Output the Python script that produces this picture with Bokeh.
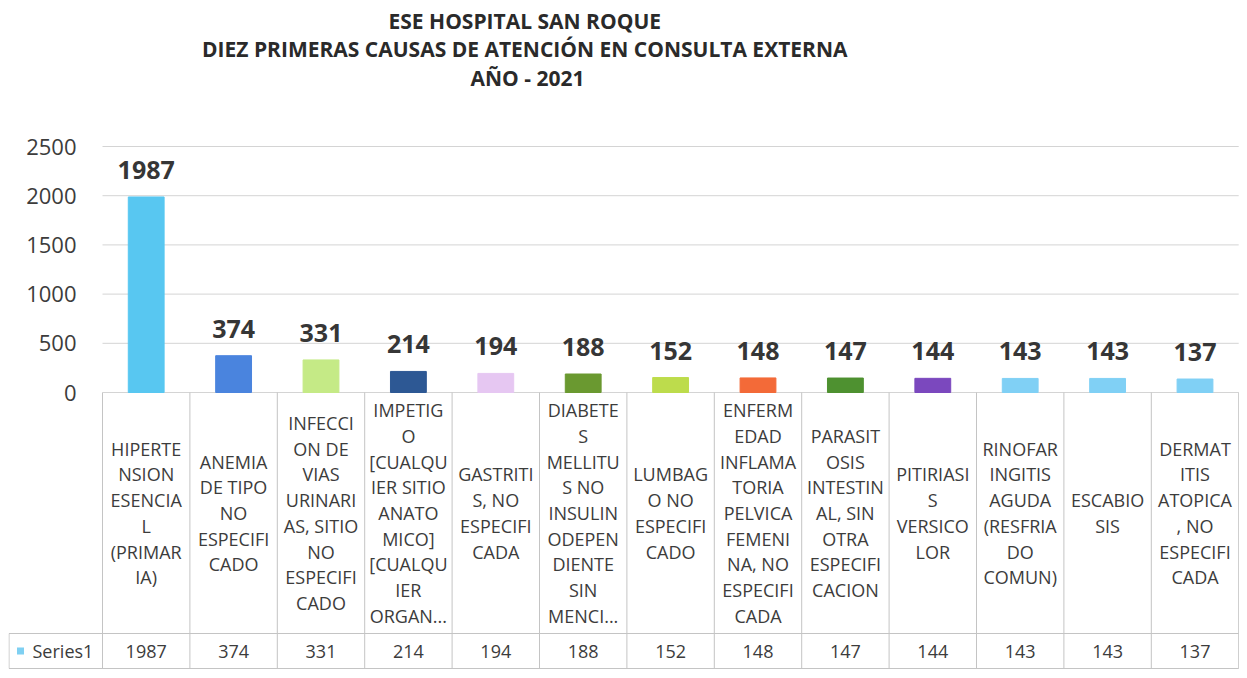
from bokeh.plotting import figure
from bokeh.models import Range1d, FixedTicker, ColumnDataSource
from bokeh.core.properties import value
from bokeh.embed import file_html
from bokeh.resources import INLINE

# ---------------- data ----------------
title_lines = ["ESE HOSPITAL  SAN ROQUE",
               "DIEZ  PRIMERAS CAUSAS DE ATENCIÓN EN CONSULTA EXTERNA",
               "AÑO - 2021"]

categories = [
    "HIPERTENSION ESENCIAL (PRIMARIA)",
    "ANEMIA DE TIPO NO ESPECIFICADO",
    "INFECCION DE VIAS URINARIAS, SITIO NO ESPECIFICADO",
    "IMPETIGO [CUALQUIER SITIO ANATOMICO] [CUALQUIER ORGAN...",
    "GASTRITIS, NO ESPECIFICADA",
    "DIABETES MELLITUS NO INSULINODEPENDIENTE SIN MENCI...",
    "LUMBAGO NO ESPECIFICADO",
    "ENFERMEDAD INFLAMATORIA PELVICA FEMENINA, NO ESPECIFICADA",
    "PARASITOSIS INTESTINAL, SIN OTRA ESPECIFICACION",
    "PITIRIASIS VERSICOLOR",
    "RINOFARINGITIS AGUDA (RESFRIADO COMUN)",
    "ESCABIOSIS",
    "DERMATITIS ATOPICA, NO ESPECIFICADA",
]

category_labels = [
    "HIPERTE\nNSION\nESENCIA\nL\n(PRIMAR\nIA)",
    "ANEMIA\nDE TIPO\nNO\nESPECIFI\nCADO",
    "INFECCI\nON DE\nVIAS\nURINARI\nAS, SITIO\nNO\nESPECIFI\nCADO",
    "IMPETIG\nO\n[CUALQU\nIER SITIO\nANATO\nMICO]\n[CUALQU\nIER\nORGAN...",
    "GASTRITI\nS, NO\nESPECIFI\nCADA",
    "DIABETE\nS\nMELLITU\nS NO\nINSULIN\nODEPEN\nDIENTE\nSIN\nMENCI...",
    "LUMBAG\nO NO\nESPECIFI\nCADO",
    "ENFERM\nEDAD\nINFLAMA\nTORIA\nPELVICA\nFEMENI\nNA, NO\nESPECIFI\nCADA",
    "PARASIT\nOSIS\nINTESTIN\nAL, SIN\nOTRA\nESPECIFI\nCACION",
    "PITIRIASI\nS\nVERSICO\nLOR",
    "RINOFAR\nINGITIS\nAGUDA\n(RESFRIA\nDO\nCOMUN)",
    "ESCABIO\nSIS",
    "DERMAT\nITIS\nATOPICA\n, NO\nESPECIFI\nCADA",
]

values = [1987, 374, 331, 214, 194, 188, 152, 148, 147, 144, 143, 143, 137]

series_name = "Series1"

y_ticks = [0, 500, 1000, 1500, 2000, 2500]

bar_colors = ["#58C7F1", "#4A84DE", "#C5EA86", "#2D5894", "#E6C7F2", "#6A9930",
              "#BDDC4C", "#F36A38", "#4E9130", "#7B48BE", "#80D0F5", "#80D0F5", "#80D0F5"]
legend_color = "#7FD0F2"

# ---------------- layout (pixels of the page) ----------------
W, H = 1239, 669
FRAME_LEFT = 8            # page x where the frame starts
PLOT_LEFT = 102           # page x of the category axis start
ZERO_Y = 392              # page y of value 0
COL = 87.4                # px per category
U = 2500 / 246.0          # value units per px
N = len(values)

def xd(px):               # page x -> data x
    return -0.5 + (px - PLOT_LEFT) / COL

def yd(py):               # page y -> data y
    return (ZERO_Y - py) * U

X_START, X_END = xd(FRAME_LEFT), xd(FRAME_LEFT + W - 8)
Y_TOP, Y_BOT = yd(0), yd(H)
ROW1_BOT = yd(633)        # bottom of category-name row
ROW2_BOT = yd(668)        # bottom of series row

TEXT = "#3C3C3C"
LINE = "#C4C4C4"
FONT = value("Open Sans")
idx = list(range(N))

p = figure(width=W, height=H, x_range=Range1d(X_START, X_END), y_range=Range1d(Y_BOT, Y_TOP),
           toolbar_location=None, output_backend="svg", x_axis_location=None,
           min_border_left=FRAME_LEFT, min_border_right=0, min_border_top=0, min_border_bottom=0,
           outline_line_color=None)
p.grid.visible = False

# value axis, labels drawn to the right of the frame edge
p.yaxis.ticker = FixedTicker(ticks=y_ticks)
p.yaxis.axis_line_color = None
p.yaxis.major_tick_line_color = None
p.yaxis.minor_tick_line_color = None
p.yaxis.major_tick_out = 0
p.yaxis.major_tick_in = 0
p.yaxis.major_label_standoff = -(76 - FRAME_LEFT)
p.yaxis.major_label_text_font = "Open Sans"
p.yaxis.major_label_text_font_size = "22px"
p.yaxis.major_label_text_color = TEXT

# gridlines over the plot area only
p.segment(x0=[-0.5] * len(y_ticks), y0=y_ticks, x1=[N - 0.5] * len(y_ticks), y1=y_ticks,
          line_color="#D4D4D4", line_width=1)

# title
p.text(x=[xd(527)] * 3, y=[yd(20), yd(48), yd(77)], text=title_lines,
       text_font=FONT, text_font_style="bold", text_font_size="21px",
       text_color="#2A2A2A", text_align="center", text_baseline="middle")

# bars and labels
src = ColumnDataSource(dict(x=idx, top=values, color=bar_colors,
                            lab=[str(v) for v in values], cat=category_labels,
                            ymid=[ROW1_BOT / 2] * N, yrow=[(ROW1_BOT + ROW2_BOT) / 2] * N))
p.vbar(x="x", top="top", bottom=0, width=0.41, color="color", source=src)
p.text(x="x", y="top", text="lab", source=src, text_font=FONT, text_font_style="bold",
       text_font_size="25px", text_color="#363636", text_align="center",
       text_baseline="alphabetic", y_offset=-27)

# data table: category names row
p.text(x="x", y="ymid", text="cat", source=src, text_font=FONT, text_font_size="18px",
       text_color=TEXT, text_align="center", text_baseline="middle", text_line_height=1.07)
# data table: series row
p.text(x="x", y="yrow", text="lab", source=src, text_font=FONT, text_font_size="18px",
       text_color=TEXT, text_align="center", text_baseline="middle")

bounds = [i - 0.5 for i in range(N + 1)]
p.segment(x0=bounds, y0=[0] * len(bounds), x1=bounds, y1=[ROW2_BOT] * len(bounds),
          line_color=LINE, line_width=1)
cell_left = xd(FRAME_LEFT + 0.5)
p.segment(x0=[cell_left, cell_left, cell_left], y0=[ROW1_BOT, ROW2_BOT, ROW1_BOT],
          x1=[N - 0.5, N - 0.5, cell_left], y1=[ROW1_BOT, ROW2_BOT, ROW2_BOT],
          line_color=LINE, line_width=1)

# series key
yrow = (ROW1_BOT + ROW2_BOT) / 2
p.scatter(x=[xd(20)], y=[yrow], marker="square", size=7, color=legend_color, line_color=None)
p.text(x=[xd(32)], y=[yrow], text=[series_name], text_font=FONT, text_font_size="18px",
       text_color=TEXT, text_align="left", text_baseline="middle")

open("out.html", "w").write(file_html(p, INLINE))
